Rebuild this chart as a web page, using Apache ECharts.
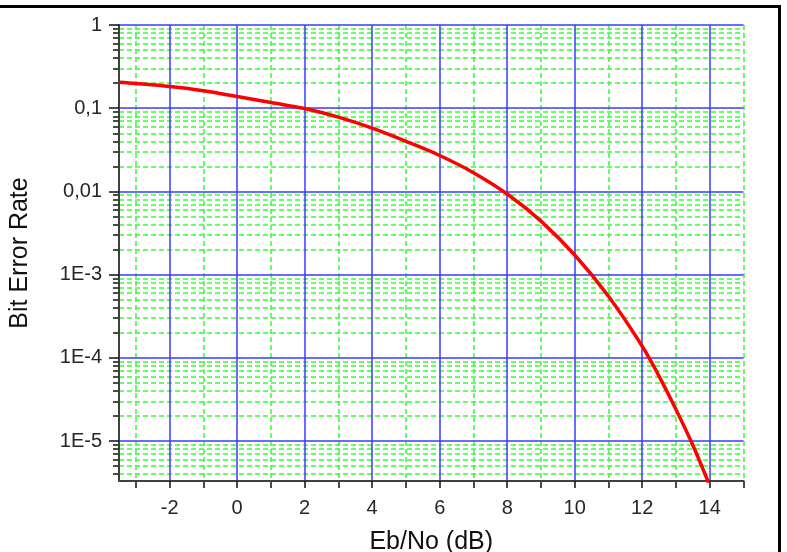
<!DOCTYPE html>
<html>
<head>
<meta charset="utf-8">
<script src="https://cdn.jsdelivr.net/npm/echarts@6/dist/echarts.min.js"></script>
<style>
  html, body { margin: 0; padding: 0; background: #fff; }
  #chart { width: 787px; height: 552px; }
</style>
</head>
<body>
<div id="chart"></div>
<script>
// Eb/No in dB and bit error rate
var ebno = [-3.5, -3, -2, -1, 0, 1, 2, 3, 4, 5, 6, 7, 8, 9, 10, 11, 12, 12.5, 13, 13.5, 14];
var ber = [0.205, 0.198, 0.182, 0.162, 0.138, 0.117, 0.099, 0.078, 0.0575, 0.040, 0.027, 0.0168,
  0.0093, 0.0044, 0.00172, 5.5e-4, 1.38e-4, 6.0e-5, 2.4e-5, 8.9e-6, 2.9e-6];

// axis ticks
var xMajor = [-2, 0, 2, 4, 6, 8, 10, 12, 14];
var xMinor = [-3, -1, 1, 3, 5, 7, 9, 11, 13, 15];
var yDecades = [-5, -4, -3, -2, -1, 0];
var yTickLabels = ['1E-5', '1E-4', '1E-3', '0,01', '0,1', '1'];

var yMin = -5.48, yMax = 0;

// log positions of 2..9 inside each decade
var yMinor = [];
for (var d = -6; d < 0; d++) {
  for (var k = 2; k <= 9; k++) {
    var v = Math.log10(k) + d;
    if (v > yMin && v < yMax) yMinor.push(v);
  }
}

var points = ebno.map(function(x, i) {
  return [x, Math.log10(ber[i])];
});

var dom = document.getElementById('chart');
var myChart = echarts.init(dom, null, { renderer: 'canvas' });

var labelFont = 'Liberation Sans, Arial, sans-serif';

var option = {
  animation: false,
  backgroundColor: '#fff',
  grid: { left: 119, right: 43.5, top: 25, bottom: 71, outerBoundsMode: 'none', containLabel: false },
  xAxis: [
    {
      type: 'value',
      min: -3.5,
      max: 15,
      z: 2,
      name: 'Eb/No (dB)',
      nameLocation: 'middle',
      nameGap: 49,
      nameTextStyle: { fontFamily: labelFont, fontSize: 25, color: '#111' },
      axisLine: { onZero: false, lineStyle: { color: '#404040', width: 2 } },
      axisTick: { customValues: xMajor, length: 7, lineStyle: { color: '#111', width: 1.5 } },
      axisLabel: {
        customValues: xMajor,
        margin: 17,
        fontFamily: labelFont,
        fontSize: 20,
        color: '#262626'
      },
      splitLine: { show: true, lineStyle: { color: '#3a3aff', width: 1.5 } }
    },
    {
      type: 'value',
      min: -3.5,
      max: 15,
      position: 'bottom',
      z: 1,
      axisLine: { show: false, onZero: false },
      axisTick: { customValues: xMinor, length: 7, lineStyle: { color: '#111', width: 1.5 } },
      axisLabel: { show: false },
      splitLine: { show: true, lineStyle: { color: '#33ff33', width: 1.5, type: [5, 3] } }
    }
  ],
  yAxis: [
    {
      type: 'value',
      min: yMin,
      max: yMax,
      z: 2,
      name: 'Bit Error Rate',
      nameLocation: 'middle',
      nameGap: 86,
      nameTextStyle: { fontFamily: labelFont, fontSize: 25, color: '#111' },
      axisLine: { show: true, onZero: false, lineStyle: { color: '#404040', width: 2 } },
      axisTick: { show: true, customValues: yDecades, length: 10, lineStyle: { color: '#111', width: 1.5 } },
      axisLabel: {
        customValues: yDecades,
        margin: 17,
        fontFamily: labelFont,
        fontSize: 20,
        color: '#262626',
        formatter: function(value) {
          var i = yDecades.indexOf(Math.round(value));
          return i >= 0 ? yTickLabels[i] : '';
        }
      },
      splitLine: { show: true, lineStyle: { color: '#3a3aff', width: 1.5 } }
    },
    {
      type: 'value',
      min: yMin,
      max: yMax,
      position: 'left',
      z: 1,
      axisLine: { show: false, onZero: false },
      axisTick: { show: true, customValues: yMinor, length: 6, lineStyle: { color: '#111', width: 1.5 } },
      axisLabel: { show: false },
      splitLine: { show: true, lineStyle: { color: '#33ff33', width: 1.5, type: [5, 3] } }
    }
  ],
  series: [
    {
      type: 'line',
      xAxisIndex: 0,
      yAxisIndex: 0,
      data: points,
      smooth: 0.35,
      symbol: 'none',
      clip: true,
      z: 5,
      lineStyle: { color: '#ff0000', width: 3.5 }
    }
  ],
  graphic: [
    { type: 'rect', shape: { x: 0, y: 5, width: 781, height: 3 }, style: { fill: '#000' } },
    { type: 'rect', shape: { x: 778, y: 5, width: 3, height: 547 }, style: { fill: '#000' } }
  ]
};

myChart.setOption(option);
window.addEventListener('resize', myChart.resize);
</script>
</body>
</html>
